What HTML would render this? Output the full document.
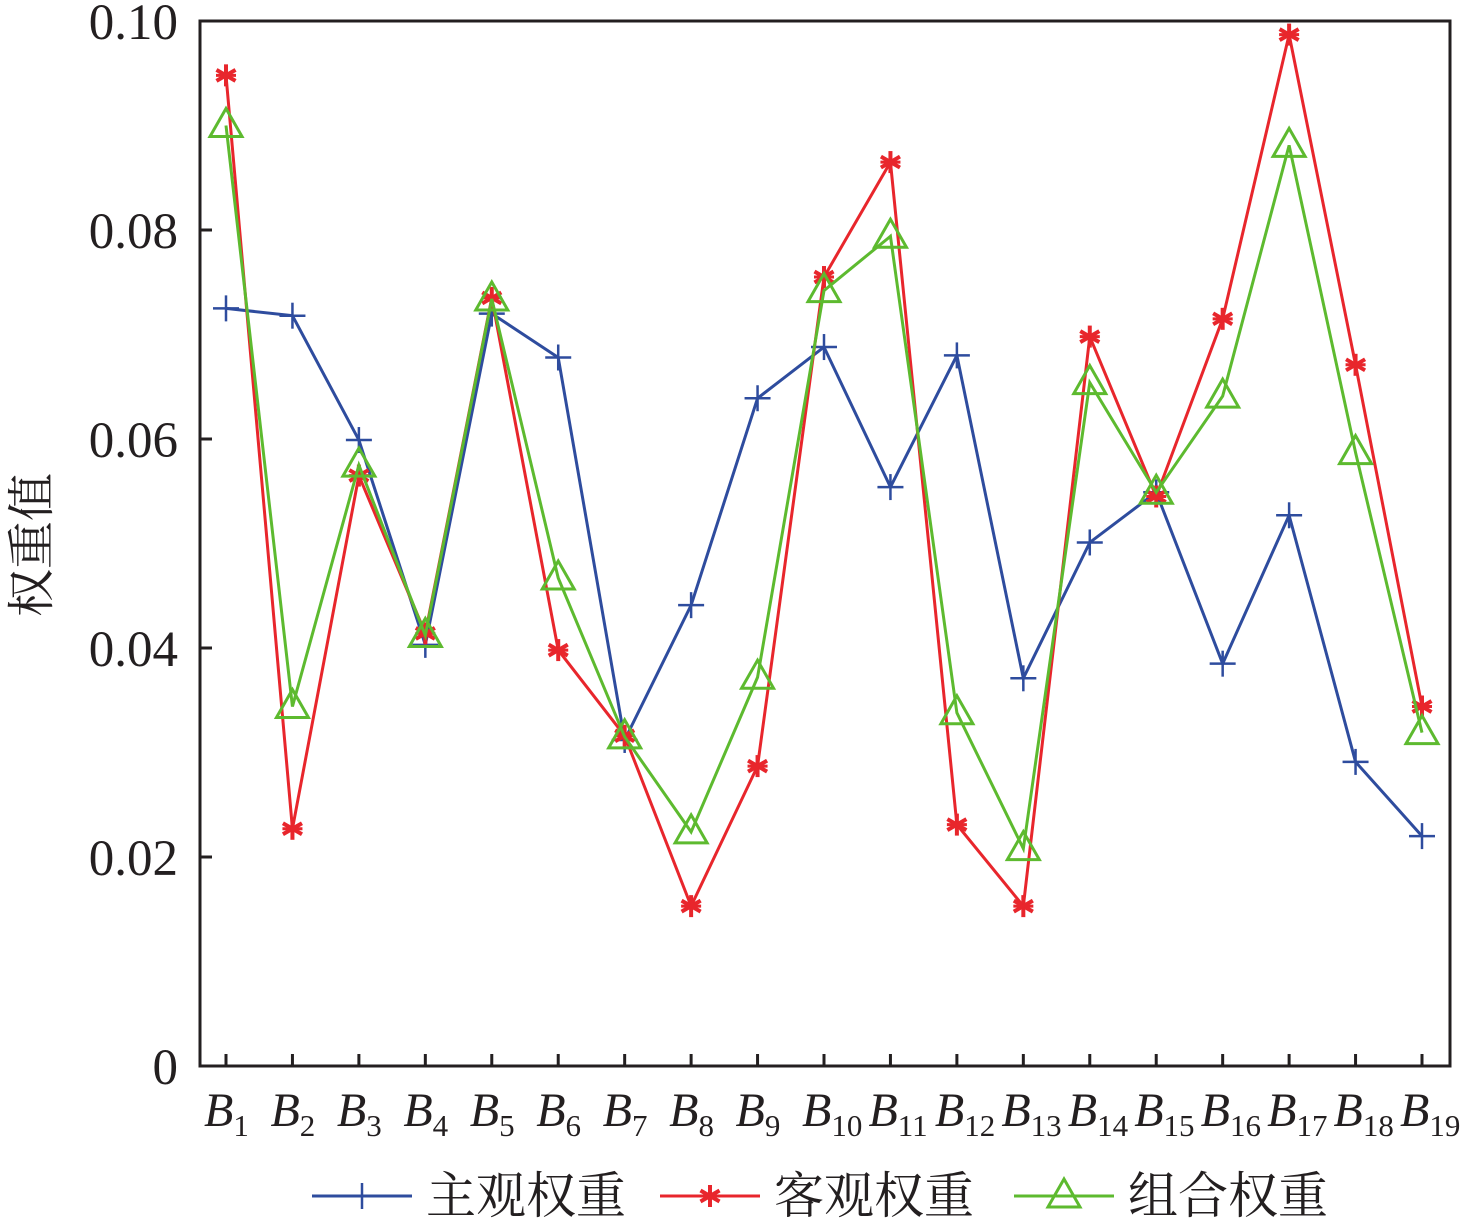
<!DOCTYPE html>
<html><head><meta charset="utf-8"><style>
html,body{margin:0;padding:0;background:#fff;}
svg{display:block;}
text{font-family:"Liberation Serif","Times New Roman","Noto Serif CJK SC",serif;fill:#231f20;}
</style></head><body>
<svg id="chart" width="1476" height="1227" viewBox="0 0 1476 1227"></svg>
<script>
const categories=["1","2","3","4","5","6","7","8","9","10","11","12","13","14","15","16","17","18","19"];
const subjective=[0.0725,0.0718,0.0599,0.0403,0.0720,0.0678,0.0312,0.0441,0.0639,0.0688,0.0554,0.0680,0.0371,0.0501,0.0549,0.0385,0.0527,0.0291,0.0220];
const objective=[0.0948,0.0227,0.0565,0.0414,0.0735,0.0398,0.0316,0.0153,0.0287,0.0755,0.0865,0.0231,0.0153,0.0698,0.0545,0.0715,0.0987,0.0671,0.0344];
const combined=[0.0900,0.0344,0.0575,0.0412,0.0734,0.0467,0.0315,0.0224,0.0372,0.0742,0.0794,0.0338,0.0208,0.0654,0.0549,0.0641,0.0881,0.0587,0.0319];
const yTicks=[0,0.02,0.04,0.06,0.08,0.10];
const yTickLabels=["0","0.02","0.04","0.06","0.08","0.10"];

const NS="http://www.w3.org/2000/svg";
const svg=document.getElementById('chart');
const L=200,R=1450,T=21,B=1066;
function xs(i){return 226+i*(1422-226)/(categories.length-1);}
function ys(v){return B-(v-0)/(0.10)*(B-T);}
function mk(tag,attrs,parent){const e=document.createElementNS(NS,tag);for(const k in attrs)e.setAttribute(k,attrs[k]);(parent||svg).appendChild(e);return e;}

const frame=mk('rect',{x:L,y:T,width:R-L,height:B-T,fill:'none',stroke:'#231f20','stroke-width':3});



yTicks.forEach((v,i)=>{
  const y=ys(v);
  if(i>0&&i<yTicks.length-1){const t=mk('line',{x1:L,x2:L+12,y1:y,y2:y,stroke:'#231f20','stroke-width':3});
  
  }
  const tx=mk('text',{x:178,y:y+18,'text-anchor':'end','font-size':51});
  tx.textContent=yTickLabels[i];
  
  
});
categories.forEach((c,i)=>{
  const x=xs(i);
  const t=mk('line',{x1:x,x2:x,y1:B,y2:B-12,stroke:'#231f20','stroke-width':3});
  
  
  const tx=mk('text',{x:x-22,y:1126,'font-size':48});
  
  
  const b=mk('tspan',{'font-style':'italic'},tx);b.textContent='B';
  const s=mk('tspan',{'font-size':31,dy:10},tx);s.textContent=c;
});
const yt=mk('text',{x:48,y:545,'text-anchor':'middle','font-size':48,transform:'rotate(-90 48 545)','font-family':'"Noto Sans CJK SC",sans-serif'});
yt.textContent='权重值';



function marker(type,x,y,color,g){
  if(type==='plus'){
    mk('line',{x1:x-13,x2:x+13,y1:y,y2:y,stroke:color,'stroke-width':2.5},g);
    mk('line',{x1:x,x2:x,y1:y-13,y2:y+13,stroke:color,'stroke-width':2.5},g);
  }else if(type==='star'){
    const r=11;
    for(const a of [0,60,120]){const rad=a*Math.PI/180;
      mk('line',{x1:x-r*Math.sin(rad),y1:y-r*Math.cos(rad),x2:x+r*Math.sin(rad),y2:y+r*Math.cos(rad),stroke:color,'stroke-width':4},g);}
    mk('line',{x1:x-10,x2:x+10,y1:y,y2:y,stroke:color,'stroke-width':3},g);
  }else{
    mk('polygon',{points:`${x},${y-17} ${x+16},${y+11} ${x-16},${y+11}`,fill:'none',stroke:color,'stroke-width':3},g);
  }
}
const series=[
  {name:'subjective',vals:subjective,color:'#2e4c9e',m:'plus'},
  {name:'objective',vals:objective,color:'#e8262c',m:'star'},
  {name:'combined',vals:combined,color:'#5dba2f',m:'tri'}];
series.forEach(s=>{
  const g=mk('g',{});
  
  
  const pts=s.vals.map((v,i)=>xs(i)+','+ys(v)).join(' ');
  mk('polyline',{points:pts,fill:'none',stroke:s.color,'stroke-width':3},g);
  s.vals.forEach((v,i)=>marker(s.m,xs(i),ys(v),s.color,g));
});
const leg=[['主观权重',312],['客观权重',660],['组合权重',1014]];
leg.forEach((l,i)=>{
  const g=mk('g',{});
  
  
  const s=series[i];
  mk('line',{x1:l[1],x2:l[1]+100,y1:1196,y2:1196,stroke:s.color,'stroke-width':3},g);
  marker(s.m,l[1]+50,1196,s.color,g);
  const t=mk('text',{x:l[1]+114,y:1213,'font-size':50,'font-family':'"Noto Serif CJK SC","Noto Sans CJK SC",serif'},g);
  t.textContent=l[0];
});
</script>
</body></html>
